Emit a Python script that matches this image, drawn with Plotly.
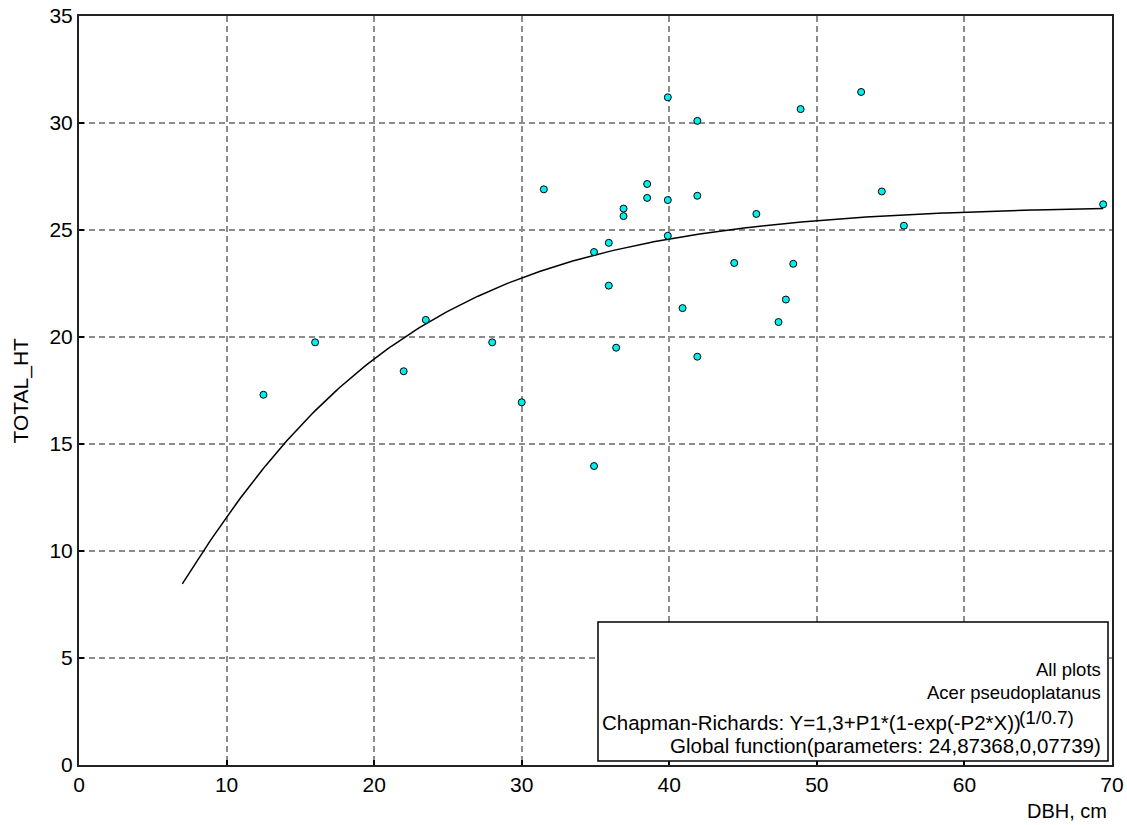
import numpy as np
import plotly.graph_objects as go

# Observed trees (DBH in cm, total height in m)
dbh = [12.5, 16.0, 22.0, 23.5, 28.0, 30.0, 31.5, 34.9, 34.9, 35.9,
       35.9, 36.4, 36.9, 36.9, 38.5, 38.5, 39.9, 39.9, 39.9, 40.9,
       41.9, 41.9, 41.9, 44.4, 45.9, 47.4, 47.9, 48.4, 48.9, 53.0,
       54.4, 55.9, 69.4]
total_ht = [17.3, 19.75, 18.4, 20.8, 19.75, 16.95, 26.9, 13.97, 23.97, 24.4,
            22.4, 19.5, 26.0, 25.65, 27.15, 26.5, 31.2, 26.4, 24.73, 21.35,
            30.1, 26.6, 19.08, 23.46, 25.75, 20.7, 21.75, 23.42, 30.65, 31.45,
            26.8, 25.2, 26.2]

# Chapman-Richards global function parameters (as printed on the chart)
b0 = 1.3
p1 = 24.87368
p2 = 0.07739
expo = 1 / 0.7
curve_start = 7.0

x_ticks = [0, 10, 20, 30, 40, 50, 60, 70]
y_ticks = [0, 5, 10, 15, 20, 25, 30, 35]

info_lines = ["All plots", "Acer pseudoplatanus"]
eq_main = "Chapman-Richards: Y=1,3+P1*(1-exp(-P2*X))"
eq_sup = "(1/0.7)"
eq_params = "Global function(parameters: 24,87368,0,07739)"

cx = np.linspace(curve_start, max(dbh), 300)
cy = b0 + p1 * (1 - np.exp(-p2 * cx)) ** expo

FONT = "Liberation Sans, Arial, sans-serif"

fig = go.Figure()
fig.add_trace(go.Scatter(x=cx, y=cy, mode="lines",
                         line=dict(color="black", width=1.5),
                         hoverinfo="skip", showlegend=False))
fig.add_trace(go.Scatter(x=dbh, y=total_ht, mode="markers",
                         marker=dict(symbol="circle", size=7, color="#00f0f0",
                                     line=dict(color="black", width=1)),
                         showlegend=False))

axis_common = dict(showgrid=True, gridcolor="#8c8c8c", gridwidth=1.5,
                   griddash="6px,4px", zeroline=False, automargin=False,
                   showline=True, linecolor="#222", linewidth=2, mirror=True,
                   ticks="inside", ticklen=5, tickcolor="black", tickwidth=1.5,
                   tickfont=dict(family=FONT, size=21, color="black"))

fig.update_xaxes(range=[0, 70], tickvals=x_ticks, ticklabelstandoff=0, **axis_common)
fig.update_yaxes(range=[0, 35], tickvals=y_ticks, ticklabelstandoff=0, **axis_common)

# plot area in pixels: left 79, right 1112, top 16, bottom 765
W = 1112 - 79
H = 765 - 16
def px(xp):
    return (xp - 79) / W

def py(yp):
    return (765 - yp) / H

shapes = [dict(type="rect", xref="paper", yref="paper",
               x0=px(598), x1=px(1108), y0=py(761), y1=py(622),
               line=dict(color="black", width=1.5), fillcolor="white", layer="above")]

ann = []
ann.append(dict(text="TOTAL_HT", xref="paper", yref="paper", x=px(20), y=0.5,
                textangle=-90, showarrow=False, xanchor="center", yanchor="middle",
                font=dict(family=FONT, size=21, color="black")))
ann.append(dict(text="DBH, cm", xref="paper", yref="paper", x=px(1109), y=py(811),
                showarrow=False, xanchor="right", yanchor="middle",
                font=dict(family=FONT, size=20, color="black")))
for t, yp in zip(info_lines, [669, 692]):
    ann.append(dict(text=t, xref="paper", yref="paper", x=px(1103), y=py(yp),
                    showarrow=False, xanchor="right", yanchor="middle",
                    font=dict(family=FONT, size=18.5, color="black")))
ann.append(dict(text=eq_main, xref="paper", yref="paper", x=px(1022), y=py(722),
                showarrow=False, xanchor="right", yanchor="middle", borderpad=0,
                font=dict(family=FONT, size=20.5, color="black")))
ann.append(dict(text=eq_sup, xref="paper", yref="paper", x=px(1018), y=py(717),
                showarrow=False, xanchor="left", yanchor="middle", borderpad=0,
                font=dict(family=FONT, size=19, color="black")))
ann.append(dict(text=eq_params, xref="paper", yref="paper", x=px(1103), y=py(745),
                showarrow=False, xanchor="right", yanchor="middle",
                font=dict(family=FONT, size=20.5, color="black")))

fig.update_layout(width=1127, height=825,
                  margin=dict(l=79, r=15, t=16, b=60, autoexpand=False),
                  plot_bgcolor="white", paper_bgcolor="white",
                  shapes=shapes, annotations=ann, showlegend=False)

fig.write_html("out.html")
